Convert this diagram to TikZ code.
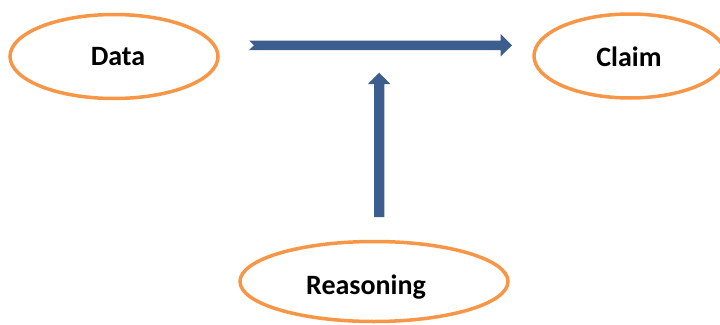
\documentclass[tikz,border=0pt]{standalone}
\usepackage{fontspec}
\setmainfont{Carlito}
\usetikzlibrary{shapes.geometric,calc}
\definecolor{ora}{HTML}{F79646}
\definecolor{blu}{HTML}{3B5E8E}
\begin{document}
\begin{tikzpicture}[x=1pt,y=-1pt,
  oval/.style={draw=ora, line width=3.5pt, ellipse, inner sep=0pt},
  lbl/.style={inner sep=0pt, font=\bfseries\fontsize{28}{32}\selectfont},
  blockarrow/.style={fill=blu, draw=none}]
\useasboundingbox (0,0) rectangle (720,324);
\clip (0,0) rectangle (720,324);
\node[oval, minimum width=208pt, minimum height=84pt] (data) at (114,56.5) {};
\node[oval, minimum width=192pt, minimum height=84pt] (claim) at (630,56) {};
\node[oval, minimum width=268pt, minimum height=80pt] (reason) at (374,281.5) {};
\node[lbl] (dataT) at (118,57) {Data};
\node[lbl] (claimT) at (629,57) {Claim};
\node[lbl] (reasonT) at (366,287) {Reasoning};
% horizontal arrow
\coordinate (hs) at (249,45.3);
\coordinate (he) at (512,45.3);
\fill[blockarrow] ($(hs)+(0,-4.8)$) -- ($(he)+(-11.5,-4.8)$) -- ($(he)+(-11.5,-11.3)$) -- (he)
  -- ($(he)+(-11.5,11.3)$) -- ($(he)+(-11.5,4.8)$) -- ($(hs)+(0,4.8)$) -- ($(hs)+(5,0)$) -- cycle;
% vertical arrow
\coordinate (vs) at (379.2,217);
\coordinate (ve) at (379.2,72.7);
\fill[blockarrow] ($(vs)+(-5.1,0)$) -- ($(ve)+(-5.1,11.3)$) -- ($(ve)+(-11.2,11.3)$) -- (ve)
  -- ($(ve)+(11.2,11.3)$) -- ($(ve)+(5.1,11.3)$) -- ($(vs)+(5.1,0)$) -- cycle;
\end{tikzpicture}
\end{document}
